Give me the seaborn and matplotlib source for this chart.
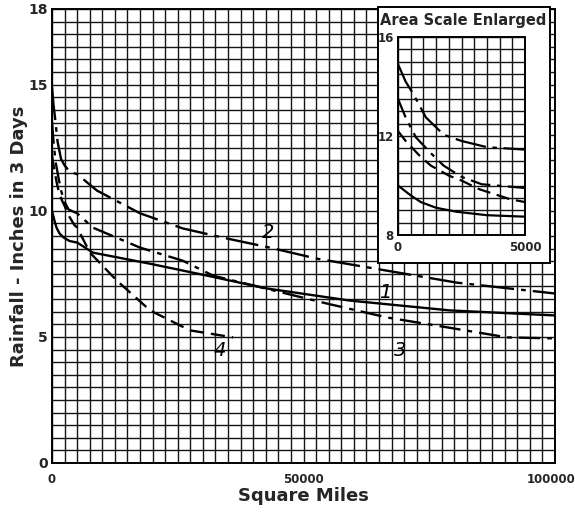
import numpy as np
import pandas as pd
import matplotlib
matplotlib.use("Agg")
import matplotlib.pyplot as plt
import matplotlib.transforms as mtransforms
import seaborn as sns
from matplotlib.patches import Rectangle

# curve data (square miles, inches of rainfall in 3 days)
curve1_x = [0, 500, 900, 1500, 2300, 3500, 5000, 8150, 19500, 30800, 42700, 59200, 79100, 100000]
curve1_y = [10.0, 9.6, 9.33, 9.1, 8.94, 8.8, 8.74, 8.34, 7.9, 7.43, 6.92, 6.44, 6.05, 5.85]

curve2_x = [0, 300, 600, 1100, 1800, 2500, 3500, 5000, 8950, 17500, 26000, 34800, 43300, 52700, 80500, 100000]
curve2_y = [14.9, 14.2, 13.7, 12.75, 12.05, 11.8, 11.55, 11.45, 10.8, 9.9, 9.3, 8.9, 8.54, 8.1, 7.15, 6.72]

curve3_x = [0, 300, 700, 1300, 1800, 2500, 3300, 5000, 8150, 17500, 26000, 32000, 54700, 66600, 78500, 90500, 100000]
curve3_y = [13.5, 12.75, 11.95, 11.3, 10.8, 10.35, 10.05, 9.9, 9.33, 8.54, 8.02, 7.43, 6.32, 5.77, 5.38, 4.98, 4.94]

curve4_x = [0, 300, 900, 1300, 2000, 2500, 3200, 4400, 5000, 7550, 12900, 19500, 27400, 36000]
curve4_y = [12.2, 11.8, 11.15, 10.8, 10.4, 10.2, 9.85, 9.45, 9.33, 8.34, 7.23, 6.05, 5.26, 4.98]

curve_names = ['1', '2', '3', '4']
label_x = [66200, 43000, 69200, 33400]
label_y = [6.76, 9.13, 4.47, 4.47]

main_xticks = [0, 50000, 100000]
main_yticks = [0, 5, 10, 15, 18]
inset_xticks = [0, 5000]
inset_yticks = [8, 12, 16]

curves = {
    '1': (curve1_x, curve1_y),
    '2': (curve2_x, curve2_y),
    '3': (curve3_x, curve3_y),
    '4': (curve4_x, curve4_y),
}
dash_styles = {'1': None, '2': (14, 3, 2, 3), '3': (9, 3, 2, 3), '4': (6, 3)}

sns.set_style("white")
plt.rcParams['font.family'] = ['DejaVu Sans']


def draw_curves(ax, lw):
    for name in curve_names:
        xs, ys = curves[name]
        sns.lineplot(x=xs, y=ys, ax=ax, color='black', linewidth=lw, sort=True, zorder=3)
        if dash_styles[name] is not None:
            ax.lines[-1].set_dashes(dash_styles[name])


def graph_paper(ax, xlim, ylim, nx, ny):
    # ruled graph paper: nx columns and ny rows
    xs = np.linspace(xlim[0], xlim[1], nx + 1)
    ys = np.linspace(ylim[0], ylim[1], ny + 1)
    for xv in xs:
        ax.axvline(xv, color='#151515', linewidth=1.0, zorder=1, snap=True)
    for yv in ys:
        ax.axhline(yv, color='#151515', linewidth=1.0, zorder=1, snap=True)
    ax.grid(False)
    ax.tick_params(which='both', length=0)
    for s in ax.spines.values():
        s.set_color('black')
        s.set_linewidth(1.4)
    ax.set_xlim(*xlim)
    ax.set_ylim(*ylim)


fig = plt.figure(figsize=(5.75, 5.18), dpi=100)

# main chart
ax = fig.add_axes([52 / 575, 1 - 463 / 518, 503 / 575, 454 / 518])
draw_curves(ax, 1.7)
graph_paper(ax, (0, 100000), (0, 18), 40, 36)
ax.set_xticks(main_xticks)
ax.set_xticklabels([str(v) for v in main_xticks], fontsize=8.5, fontweight='bold')
ax.set_yticks(main_yticks)
ax.set_yticklabels([str(v) for v in main_yticks], fontsize=10, fontweight='bold')
ax.tick_params(axis='x', pad=7)
ax.tick_params(axis='y', pad=3)
ax.set_xlabel('Square Miles', fontsize=13, fontweight='bold', labelpad=1)
ax.set_ylabel('Rainfall - Inches in 3 Days', fontsize=13, fontweight='bold', labelpad=0)

# keep the last x label inside the figure, as in the original
last = ax.get_xticklabels()[-1]
last.set_ha('right')
last.set_transform(last.get_transform() + mtransforms.ScaledTranslation(20 / 100, 0, fig.dpi_scale_trans))

for name, lx, ly in zip(curve_names, label_x, label_y):
    ax.text(lx, ly, name, fontsize=14, ha='center', va='center', style='italic', color='black')

# white box behind the inset
box = Rectangle((378 / 575, 1 - 263 / 518), 172 / 575, 256 / 518, transform=fig.transFigure,
                facecolor='white', edgecolor='black', linewidth=1.4, zorder=5)
fig.patches.append(box)
fig.text(463 / 575, 1 - 20 / 518, 'Area Scale Enlarged', fontsize=10.5, fontweight='bold',
         ha='center', va='center', zorder=6)

# inset chart
axi = fig.add_axes([398 / 575, 1 - 235 / 518, 127 / 575, 198 / 518])
axi.set_zorder(7)
draw_curves(axi, 1.6)
graph_paper(axi, (0, 5000), (8, 16), 10, 16)
axi.set_xticks(inset_xticks)
axi.set_xticklabels([str(v) for v in inset_xticks], fontsize=8.5, fontweight='bold')
axi.set_yticks(inset_yticks)
axi.set_yticklabels([str(v) for v in inset_yticks], fontsize=8.5, fontweight='bold')
axi.tick_params(axis='x', pad=4)
axi.tick_params(axis='y', pad=3)

fig.savefig('out.png', dpi=100)
